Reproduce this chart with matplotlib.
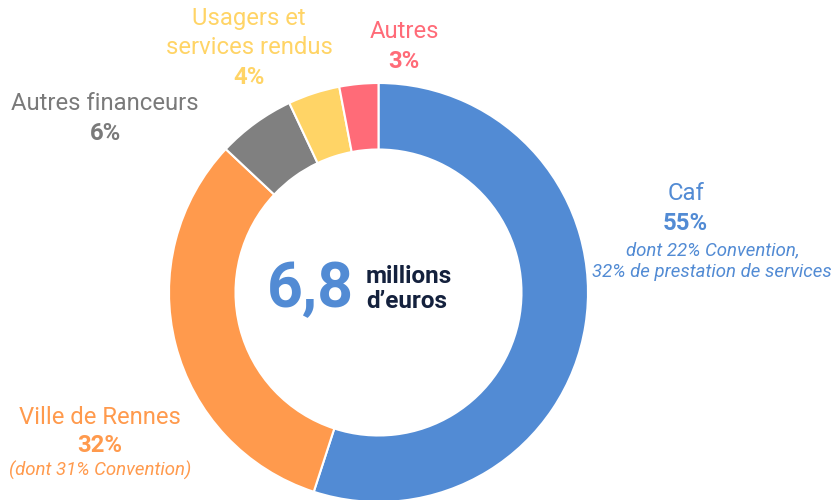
import matplotlib
matplotlib.use('Agg')
import matplotlib.pyplot as plt

# financing shares, clockwise from 12 o'clock
categories = ["Caf", "Ville de Rennes", "Autres financeurs", "Usagers et services rendus", "Autres"]
shares = [55, 32, 6, 4, 3]
colors = ["#528BD4", "#FF9A4D", "#808080", "#FFD466", "#FF6B78"]
total_label = "6,8"
total_unit = "millions\nd\u2019euros"

plt.rcParams['font.family'] = ['Roboto', 'DejaVu Sans']

W, H = 838, 500
fig = plt.figure(figsize=(W / 100, H / 100), dpi=100)
ax = fig.add_axes([0, 0, 1, 1])
ax.set_xlim(0, W)
ax.set_ylim(0, H)
ax.set_aspect('equal')
ax.axis('off')

cx, cy = 378.5, H - 292.5
R, r_in = 209.5, 143
ax.pie(shares, colors=colors, startangle=90, counterclock=False,
       center=(cx, cy), radius=R,
       wedgeprops=dict(width=R - r_in, edgecolor='white', linewidth=1.5))
ax.set_xlim(0, W)
ax.set_ylim(0, H)


def txt(x, y, s, color, size=17.2, weight='normal', style='normal', ha='center'):
    ax.text(x, H - y, s, color=color, fontsize=size, fontweight=weight,
            fontstyle=style, ha=ha, va='center')


# labels
txt(249, 19, "Usagers et", colors[3])
txt(249, 47, "services rendus", colors[3])
txt(249, 77, f"{shares[3]}%", colors[3], weight='bold')

txt(404, 32, categories[4], colors[4])
txt(404, 61, f"{shares[4]}%", colors[4], weight='bold')

txt(105, 104, categories[2], "#7A7A7A")
txt(105, 133, f"{shares[2]}%", "#7A7A7A", weight='bold')

txt(686, 194, categories[0], colors[0])
txt(685, 223, f"{shares[0]}%", colors[0], weight='bold')
txt(713, 250, "dont 22% Convention,", colors[0], size=13.4, style='italic')
txt(712, 272, "32% de prestation de services", colors[0], size=13.4, style='italic')

txt(100, 417, categories[1], colors[1])
txt(100, 445, f"{shares[1]}%", colors[1], weight='bold')
txt(100, 470, "(dont 31% Convention)", colors[1], size=13.4, style='italic')

# centre
ax.text(310, H - 290, total_label, color=colors[0], fontsize=45, fontweight='bold',
        ha='center', va='center')
ax.text(366, H - 289, total_unit, color="#14213D", fontsize=17.5, fontweight='bold',
        ha='left', va='center', linespacing=1.1)

fig.savefig("out.png", dpi=100)
